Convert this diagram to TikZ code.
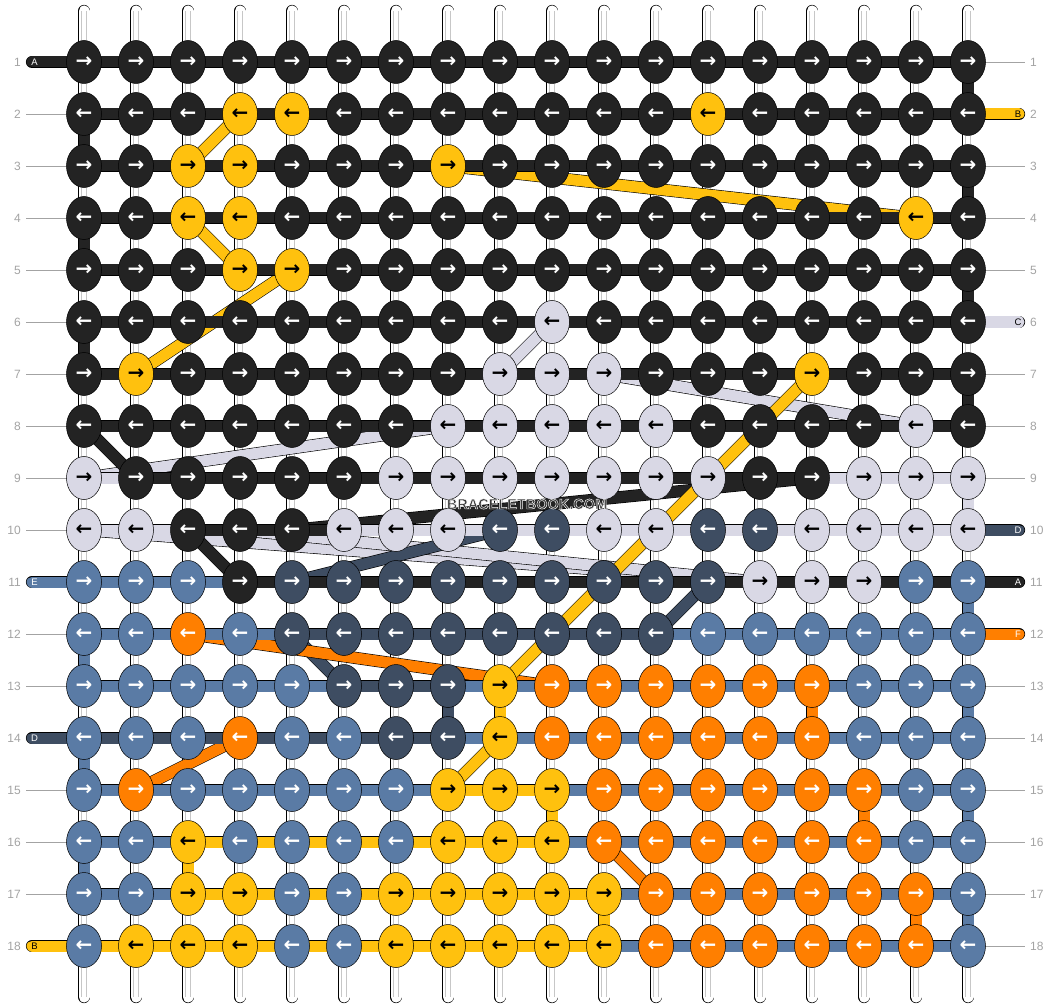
\documentclass[tikz,border=0pt]{standalone}
\usepackage{fontspec}
\setmainfont{Liberation Sans}
\newfontfamily\arrowfont{DejaVu Sans}
\usepackage{tikz}
\usetikzlibrary{shapes.geometric}

\definecolor{colK}{HTML}{232323}
\definecolor{colY}{HTML}{FFC10E}
\definecolor{colL}{HTML}{D9D8E5}
\definecolor{colD}{HTML}{3E4D62}
\definecolor{colS}{HTML}{5A7BA5}
\definecolor{colO}{HTML}{FF7F00}
\definecolor{numgray}{HTML}{A3A3A3}
\colorlet{arrK}{white}\colorlet{arrD}{white}\colorlet{arrS}{white}
\colorlet{arrO}{white}\colorlet{arrY}{black}\colorlet{arrL}{black}

\pgfdeclarelayer{strands}
\pgfdeclarelayer{lines}
\pgfdeclarelayer{bands}
\pgfsetlayers{strands,lines,bands,main}

\tikzset{
  knot/.style={ellipse, draw=black, line width=0.5pt, minimum width=35pt,
    minimum height=43pt, inner sep=0pt,
    font=\arrowfont\bfseries\fontsize{20}{20}\selectfont},
  thread/.style={draw=black, line width=0.6pt, double=#1, double distance=11pt},
  strandgrey/.style={draw=black!22, line width=0.7pt},
  guide/.style={draw=numgray, line width=0.6pt},
  rownum/.style={text=numgray, inner sep=0pt, font=\fontsize{12}{12}\selectfont},
  tag/.style={inner sep=0pt, font=\fontsize{9.5}{9.5}\selectfont},
  markfont/.style={inner sep=0pt, font=\bfseries\fontsize{14.5}{14.5}\selectfont}
}

\begin{document}
\begin{tikzpicture}[x=1pt, y=-1pt]
    \useasboundingbox (0,0) rectangle (1052,1008);
    % knots, row by row
    \foreach \r/\cols in {
        1/{K,K,K,K,K,K,K,K,K,K,K,K,K,K,K,K,K,K},
        2/{K,K,K,Y,Y,K,K,K,K,K,K,K,Y,K,K,K,K,K},
        3/{K,K,Y,Y,K,K,K,Y,K,K,K,K,K,K,K,K,K,K},
        4/{K,K,Y,Y,K,K,K,K,K,K,K,K,K,K,K,K,Y,K},
        5/{K,K,K,Y,Y,K,K,K,K,K,K,K,K,K,K,K,K,K},
        6/{K,K,K,K,K,K,K,K,K,L,K,K,K,K,K,K,K,K},
        7/{K,Y,K,K,K,K,K,K,L,L,L,K,K,K,Y,K,K,K},
        8/{K,K,K,K,K,K,K,L,L,L,L,L,K,K,K,K,L,K},
        9/{L,K,K,K,K,K,L,L,L,L,L,L,L,K,K,L,L,L},
        10/{L,L,K,K,K,L,L,L,D,D,L,L,D,D,L,L,L,L},
        11/{S,S,S,K,D,D,D,D,D,D,D,D,D,L,L,L,S,S},
        12/{S,S,O,S,D,D,D,D,D,D,D,D,S,S,S,S,S,S},
        13/{S,S,S,S,S,D,D,D,Y,O,O,O,O,O,O,S,S,S},
        14/{S,S,S,O,S,S,D,D,Y,O,O,O,O,O,O,S,S,S},
        15/{S,O,S,S,S,S,S,Y,Y,Y,O,O,O,O,O,O,S,S},
        16/{S,S,Y,S,S,S,S,Y,Y,Y,O,O,O,O,O,O,S,S},
        17/{S,S,Y,Y,S,S,Y,Y,Y,Y,Y,O,O,O,O,O,O,S},
        18/{S,Y,Y,Y,S,S,Y,Y,Y,Y,Y,O,O,O,O,O,O,S}}
    \foreach \c [count=\i] in \cols
        \node[knot, fill=col\c, text=arr\c] (k-\r-\i) at ({32+52*\i},{10+52*\r})
        {\ifodd\r\relax\symbol{"2192}\else\symbol{"2190}\fi};

    \begin{pgfonlayer}{strands}
    \foreach \i in {1,...,18} {
        \coordinate (top-\i) at ({32+52*\i},11);
        \coordinate (bot-\i) at ({32+52*\i},997);
        \draw[thread=white, line cap=round] (top-\i) -- (bot-\i);
        \draw[strandgrey] ([xshift=-2.6pt]top-\i) -- ([xshift=-2.6pt]bot-\i);
        \draw[strandgrey] ([xshift=2.6pt]top-\i) -- ([xshift=2.6pt]bot-\i);
    }
    \foreach \r in {2,...,10,12,13,15,16,17} {
        \coordinate (gl-\r) at (26,{10+52*\r});
        \draw[guide] (gl-\r) -- (k-\r-1.center);
    }
    \foreach \r in {1,3,4,5,7,8,9,13,14,15,16,17,18} {
        \coordinate (gr-\r) at (1025,{10+52*\r});
        \draw[guide] (k-\r-18.center) -- (gr-\r);
    }
    \end{pgfonlayer}

    \begin{pgfonlayer}{lines}
    \foreach \a/\b/\c in {k-2-4/k-3-3/colY, k-3-8/k-4-17/colY,
        k-4-3/k-5-4/colY, k-5-5/k-7-2/colY, k-14-9/k-15-8/colY,
        k-6-10/k-7-9/colL, k-7-11/k-8-17/colL, k-8-8/k-9-1/colL,
        k-10-1/k-11-14/colL, k-10-4/k-11-14/colL,
        k-8-1/k-9-2/colK, k-9-15/k-10-5/colK, k-10-3/k-11-4/colK,
        k-10-9/k-11-5/colD, k-11-13/k-12-12/colD, k-12-5/k-13-6/colD,
        k-12-3/k-13-10/colO, k-14-4/k-15-2/colO, k-16-11/k-17-12/colO,
        k-7-15/k-13-9/colY}
        \draw[thread=\c] (\a.center) -- (\b.center);
    \end{pgfonlayer}

    \begin{pgfonlayer}{bands}
    \foreach \r in {1,...,8}
    \foreach \i in {1,...,17} {
        \pgfmathtruncatemacro\j{\i+1}
        \draw[thread=colK] (k-\r-\i.center) -- (k-\r-\j.center);
    }
    \foreach \r/\segs in {
        9/{L,K,K,K,K,K,K,K,K,K,K,K,K,K,L,L,L},
        10/{L,L,K,K,K,L,L,L,L,L,L,L,L,L,L,L,L},
        11/{S,S,S,K,K,K,K,K,K,K,K,K,K,K,K,K,K},
        12/{S,S,S,S,D,D,D,D,D,D,D,S,S,S,S,S,S},
        13/{S,S,S,S,S,D,D,S,S,S,S,S,S,S,S,S,S},
        14/{D,D,D,D,D,D,D,S,S,S,S,S,S,S,S,S,S},
        15/{S,S,S,S,S,S,S,Y,Y,S,S,S,S,S,S,S,S},
        16/{S,S,Y,Y,Y,Y,Y,Y,Y,S,S,S,S,S,S,S,S},
        17/{S,S,Y,Y,Y,Y,Y,Y,Y,Y,S,S,S,S,S,S,S},
        18/{Y,Y,Y,Y,Y,Y,Y,Y,Y,Y,S,S,S,S,S,S,S}}
    \foreach \c [count=\i] in \segs {
        \pgfmathtruncatemacro\j{\i+1}
        \draw[thread=col\c] (k-\r-\i.center) -- (k-\r-\j.center);
    }
    % vertical turns between rows
    \foreach \r/\i/\c in {2/1/K, 4/1/K, 6/1/K, 12/1/S, 14/1/S, 16/1/S,
        1/18/K, 3/18/K, 5/18/K, 7/18/K, 9/18/L, 11/18/S, 13/18/S, 15/18/S,
        17/18/S, 13/8/D, 13/9/Y, 13/15/O, 15/10/Y, 15/16/O, 16/3/Y,
        17/11/Y, 17/17/O} {
        \pgfmathtruncatemacro\s{\r+1}
        \draw[thread=col\c] (k-\r-\i.center) -- (k-\s-\i.center);
    }
    % string ends
    \foreach \r/\c/\t/\tc in {1/K/A/white, 11/S/E/white, 14/D/D/white,
        18/Y/B/black} {
        \coordinate (el-\r) at (32,{10+52*\r});
        \draw[thread=col\c, line cap=round] (el-\r) -- (k-\r-1.center);
        \node[tag, text=\tc] (tl-\r) at (34.5,{10+52*\r}) {\t};
    }
    \foreach \r/\c/\t/\tc in {2/Y/B/black, 6/L/C/black, 10/D/D/white,
        11/K/A/white, 12/O/F/white} {
        \coordinate (er-\r) at (1019,{10+52*\r});
        \draw[thread=col\c, line cap=round] (k-\r-18.center) -- (er-\r);
        \node[tag, text=\tc] (tr-\r) at (1018,{10+52*\r}) {\t};
    }
    \end{pgfonlayer}

    \foreach \r in {1,...,18} {
        \node[rownum, anchor=east] (nl-\r) at (21,{10+52*\r}) {\r};
        \node[rownum, anchor=west] (nr-\r) at (1030,{10+52*\r}) {\r};
    }
    % watermark, dark letters with a white rim
    \node[markfont, text=black!78] (mark) at (527,504)
        {\special{pdf:literal direct 2 Tr 1 1 1 RG 0.45 w}BRACELETBOOK.COM%
         \special{pdf:literal direct 0 Tr}};
\end{tikzpicture}
\end{document}
